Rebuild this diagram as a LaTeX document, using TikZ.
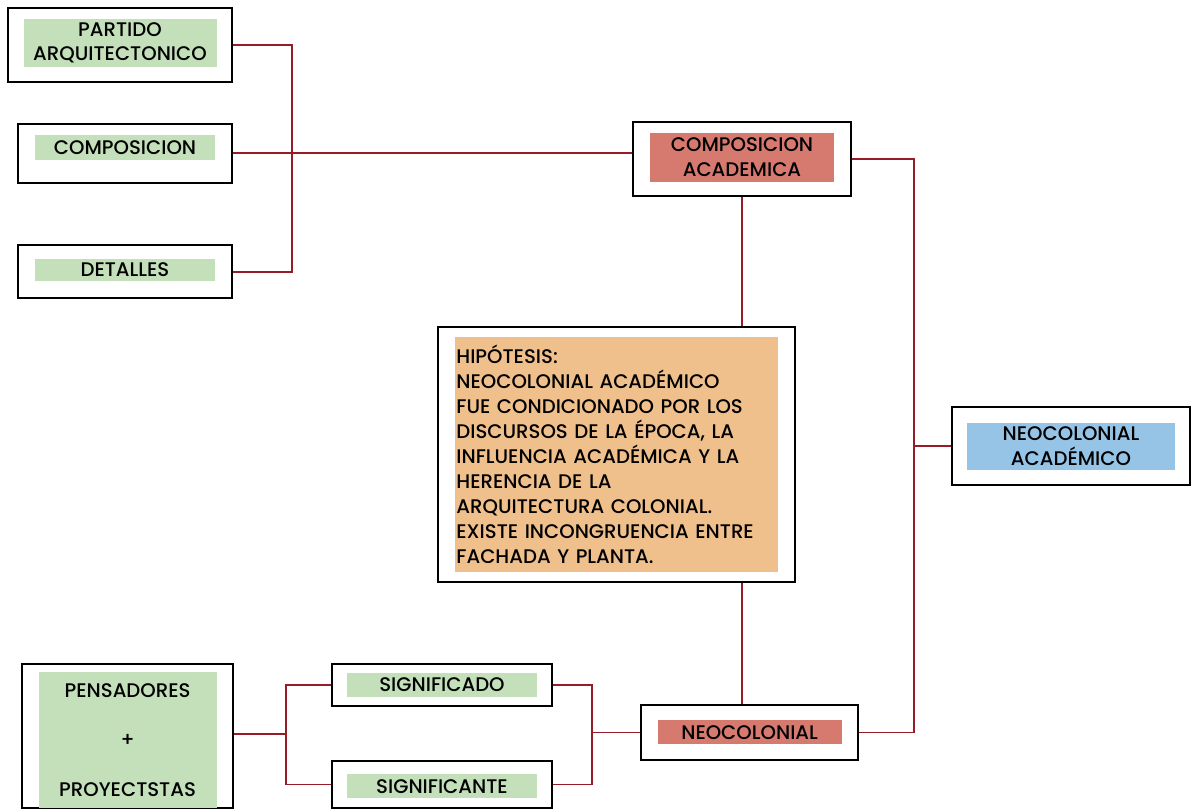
\documentclass[tikz,border=0pt]{standalone}
\usepackage{fontspec}
\setmainfont{Poppins}[UprightFont=* Medium, BoldFont=* SemiBold]
\usepackage{tikz}
\usetikzlibrary{positioning,calc}
\definecolor{linered}{RGB}{150,28,40}
\definecolor{verde}{RGB}{196,224,186}
\definecolor{rojo}{RGB}{214,122,112}
\definecolor{naranja}{RGB}{240,192,140}
\definecolor{azul}{RGB}{150,196,230}
\tikzset{
  box/.style  ={draw, line width=1.3pt, rectangle, fill=white, inner sep=0pt},
  tag/.style  ={rectangle, inner sep=0pt, align=center, font=\fontsize{14}{17.5}\selectfont},
  conn/.style ={draw=linered, line width=1.3pt},
}
\begin{document}
\begin{tikzpicture}
  \useasboundingbox (0,0) rectangle (29.825,-20.2);

  % upper left group
  \node[box, minimum width=5.6cm, minimum height=1.85cm] (partido) at (3.0,-1.125) {};
  \node[tag, fill=verde, minimum width=4.825cm, minimum height=1.2cm] at ($(partido)+(0,0.05)$) {PARTIDO\\ARQUITECTONICO};
  \node[box, minimum width=5.35cm, minimum height=1.475cm] (comp) at (3.125,-3.83) {};
  \node[tag, fill=verde, minimum width=4.5cm, minimum height=0.625cm] at ($(comp)+(0,0.15)$) {COMPOSICION};
  \node[box, minimum width=5.35cm, minimum height=1.325cm] (detalles) at (3.125,-6.79) {};
  \node[tag, fill=verde, minimum width=4.5cm, minimum height=0.55cm] at ($(detalles)+(0,0.05)$) {DETALLES};

  % centre column
  \node[box, minimum width=5.45cm, minimum height=1.85cm] (compacad) at (18.55,-3.975) {};
  \node[tag, fill=rojo, minimum width=4.6cm, minimum height=1.225cm] at ($(compacad)+(0,0.05)$) {COMPOSICION\\ACADEMICA};
  \node[box, minimum width=8.925cm, minimum height=6.375cm] (hipo) at (15.41,-11.36) {};
  \node[tag, fill=naranja, minimum width=8.075cm, minimum height=5.875cm, align=left, text width=8.0cm, font=\fontsize{14}{17.8}\selectfont] at (hipo) {HIPÓTESIS:\\NEOCOLONIAL ACADÉMICO\\FUE CONDICIONADO POR LOS\\DISCURSOS DE LA ÉPOCA, LA\\INFLUENCIA ACADÉMICA Y LA\\HERENCIA DE LA\\ARQUITECTURA COLONIAL.\\EXISTE INCONGRUENCIA ENTRE\\FACHADA Y PLANTA.};
  \node[box, minimum width=5.425cm, minimum height=1.375cm] (neocol) at (18.74,-18.31) {};
  \node[tag, fill=rojo, minimum width=4.6cm, minimum height=0.6cm] at (neocol) {NEOCOLONIAL};

  % right
  \node[box, minimum width=5.95cm, minimum height=1.95cm] (neoac) at (26.775,-11.15) {};
  \node[tag, fill=azul, minimum width=5.2cm, minimum height=1.175cm] at (neoac) {NEOCOLONIAL\\ACADÉMICO};

  % lower left group
  \node[box, minimum width=5.275cm, minimum height=3.6cm] (pens) at (3.19,-18.4) {};
  \node[tag, fill=verde, minimum width=4.45cm, minimum height=3.4cm, font=\fontsize{14}{35}\selectfont] at ($(pens)+(0,-0.1)$) {PENSADORES\\+\\PROYECTSTAS};
  \node[box, minimum width=5.5cm, minimum height=1.05cm] (signdo) at (11.05,-17.125) {};
  \node[tag, fill=verde, minimum width=4.75cm, minimum height=0.6cm] at (signdo) {SIGNIFICADO};
  \node[box, minimum width=5.5cm, minimum height=1.175cm] (signte) at (11.05,-19.61) {};
  \node[tag, fill=verde, minimum width=4.75cm, minimum height=0.6cm] at ($(signte)+(0,-0.05)$) {SIGNIFICANTE};

  % junctions
  \coordinate (lbus) at (7.3,-3.95);
  \coordinate (rbus) at (22.85,-11.15);
  \coordinate (pbus) at (7.15,-18.35);
  \coordinate (sbus) at (14.8,-18.31);

  % connectors
  \draw[conn] (partido.east) -| (lbus) |- (detalles.east);
  \draw[conn] (comp.east) -- (comp.east -| compacad.west);
  \draw[conn] (compacad.south) -- (compacad.south |- hipo.north);
  \draw[conn] (compacad.south |- hipo.south) -- (compacad.south |- neocol.north);
  \draw[conn] (compacad.east) -| (rbus) |- (neocol.east);
  \draw[conn] (rbus) -- (neoac.west);
  \draw[conn] (pens.east |- pbus) -- (pbus);
  \draw[conn] (signdo.west) -| (pbus) |- (signte.west);
  \draw[conn] (signdo.east) -| (sbus) |- (signte.east);
  \draw[conn] (sbus) -- (neocol.west);
\end{tikzpicture}
\end{document}
